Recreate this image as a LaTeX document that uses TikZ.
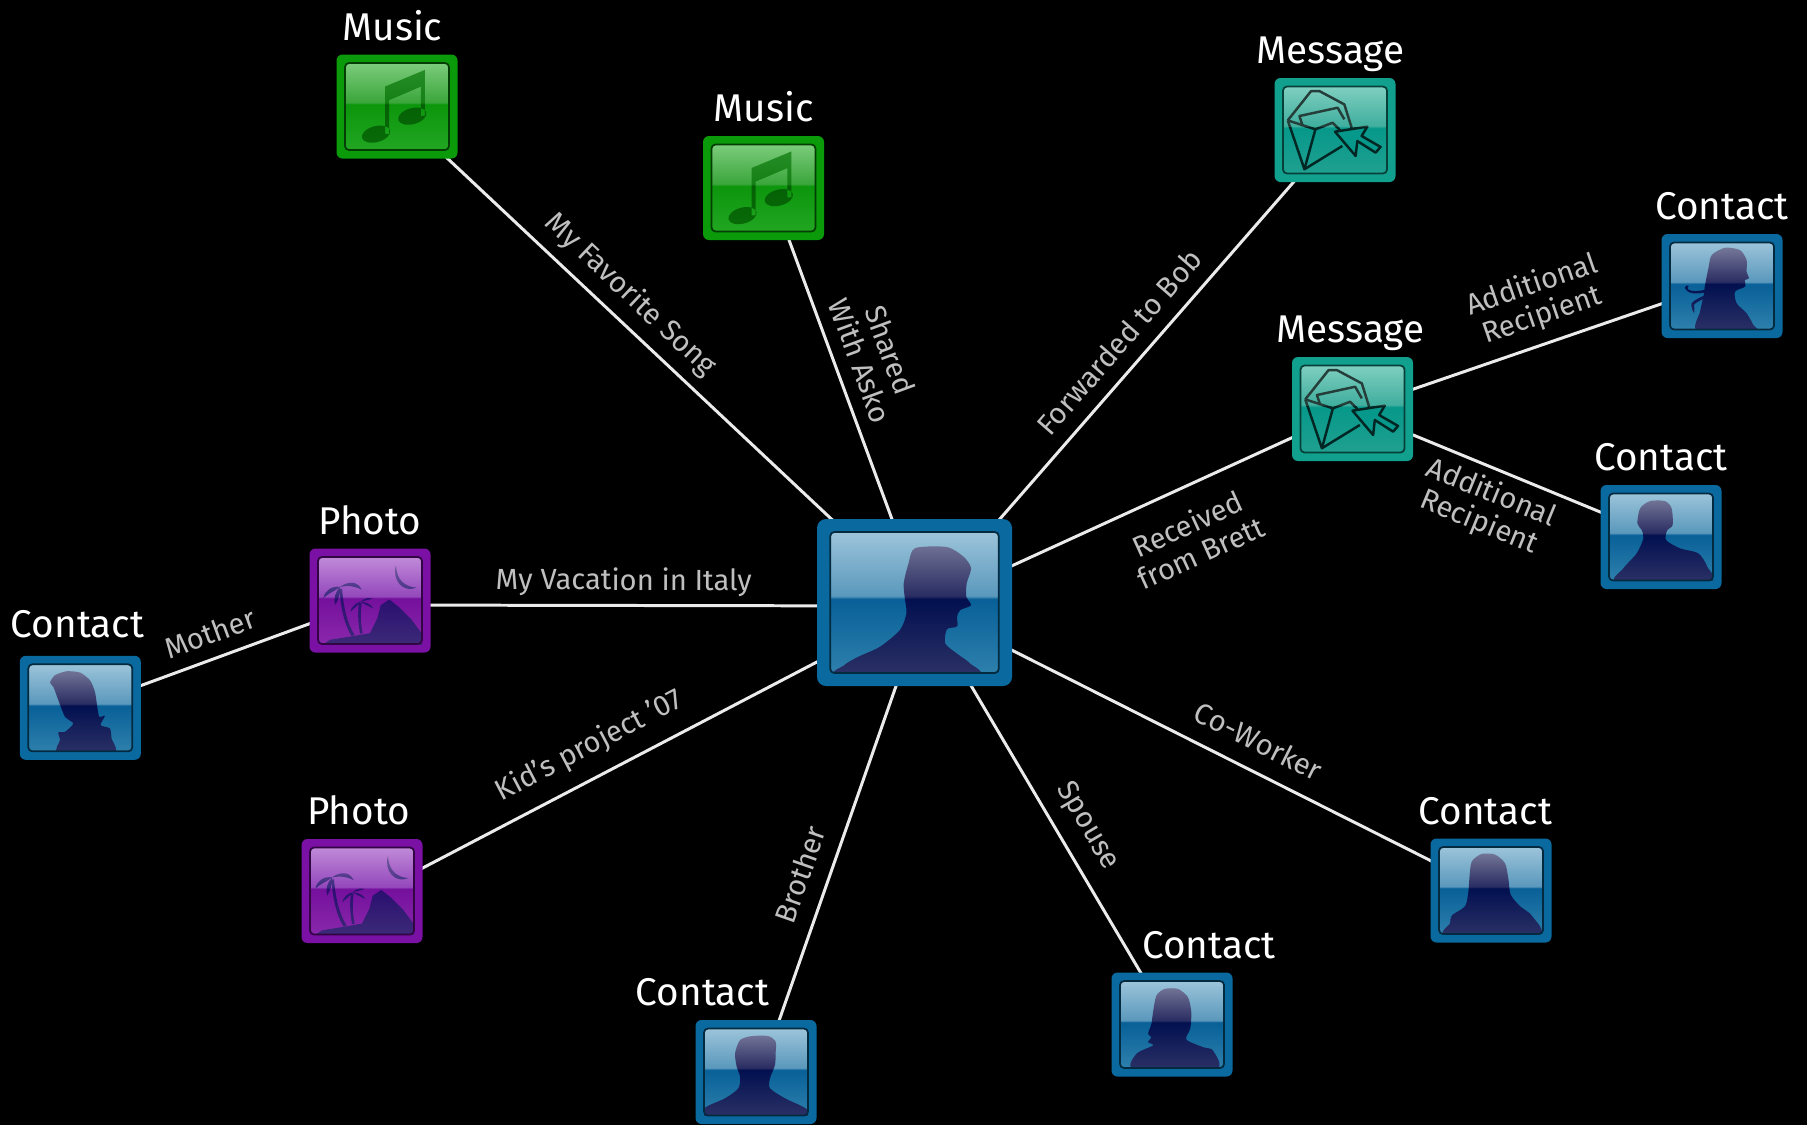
\documentclass[tikz,border=0pt]{standalone}
\usepackage{fontspec}
\setmainfont{Fira Sans}
\usetikzlibrary{positioning}
\pgfdeclarelayer{links}
\pgfsetlayers{links,main}

% name, four stops of the shading from top to bottom
\newcommand{\newgloss}[5]{%
  \definecolor{#1a}{HTML}{#2}\definecolor{#1b}{HTML}{#3}%
  \definecolor{#1c}{HTML}{#4}\definecolor{#1d}{HTML}{#5}%
  \pgfdeclareverticalshading{#1}{100bp}{color(0bp)=(#1d); color(25bp)=(#1d); color(51.3bp)=(#1c); color(52.3bp)=(#1b); color(75bp)=(#1a); color(100bp)=(#1a)}}
\newgloss{bluepanel}{9CC4DA}{5A98BC}{086098}{2E80AC}
\newgloss{bluefig}{8082A0}{2A2D62}{021050}{2A3065}
\newgloss{greenpanel}{7CCC7C}{3AA63A}{0C960C}{22A622}
\newgloss{greenfig}{2A8F2A}{148014}{056005}{086C08}
\newgloss{tealpanel}{7FCFC0}{40AE9E}{06988A}{20A090}
\newgloss{purplepanel}{C08AD8}{9448BC}{74109C}{8A28AC}
\newgloss{purplefig}{8468A8}{3C2A80}{2A0E70}{3C2A78}
\definecolor{blueedge}{HTML}{0A6AA0}
\definecolor{greenedge}{HTML}{0A9A0A}
\definecolor{tealedge}{HTML}{12A08E}
\definecolor{purpleedge}{HTML}{7A10A4}

\newcommand{\panelrect}{(-.52*\tileunit,-.435*\tileunit) rectangle (.52*\tileunit,.435*\tileunit)}
\newcommand{\figclip}[2]{\begin{scope}\pgfmathsetmacro{\figunit}{.00333*\tileunit}\clip[x=\figunit cm,y=-\figunit cm] #2;\shade[shading=#1] \panelrect;\end{scope}}

\newcommand{\figprofile}{\figclip{bluefig}{plot[smooth cycle,tension=.45] coordinates {(1,-101)(60,-103)(91,-85)(105,-64)(97,-36)(96,-11)(105,5)(85,14)(79,26)(80,42)(75,46)(60,50)(57,76)(79,95)(103,113)(111,135)(-139,135)(-130,116)(-105,101)(-64,82)(-27,51)(-15,20)(-18,-8)(-20,-36)(-11,-73)}}}
\newcommand{\figmother}{\figclip{bluefig}{plot[smooth cycle,tension=.4] coordinates {(-91,-76)(-76,-98)(-41,-110)(-1,-106)(29,-83)(44,-48)(51,-3)(57,27)(74,24)(61,52)(89,62)(94,92)(101,135)(-66,135)(-61,97)(-66,74)(-46,72)(-21,47)(-46,27)(-66,-23)(-81,-63)}}}
\newcommand{\figbrother}{\figclip{bluefig}{plot[smooth cycle,tension=.45] coordinates {(-63,-56)(-48,-96)(-13,-108)(37,-108)(59,-91)(59,-56)(57,-21)(42,19)(42,49)(87,79)(149,109)(159,135)(-153,135)(-151,106)(-93,79)(-53,49)(-48,14)(-58,-16)}}}
\newcommand{\figspouse}{\figclip{bluefig}{plot[smooth cycle,tension=.45] coordinates {(-57,-37)(-47,-87)(-22,-107)(18,-107)(48,-82)(58,-37)(55,12)(43,45)(93,68)(123,78)(131,135)(-112,135)(-107,88)(-57,63)(-72,53)(-62,38)(-72,28)(-62,-2)}}}
\newcommand{\figworker}{\figclip{bluefig}{plot[smooth cycle,tension=.45] coordinates {(-65,-37)(-58,-87)(-28,-110)(12,-108)(42,-82)(52,-37)(59,12)(87,47)(122,75)(142,135)(-133,135)(-123,98)(-118,75)(-78,47)(-68,3)}}}
\newcommand{\figfriend}{\figclip{bluefig}{plot[smooth cycle,tension=.45] coordinates {(-71,-41)(-63,-86)(-33,-108)(12,-108)(32,-86)(35,-36)(19,-21)(15,9)(57,34)(112,49)(139,89)(145,135)(-130,135)(-113,94)(-73,49)(-53,4)(-58,-21)}}}
\newcommand{\figponytail}{\figclip{bluefig}{plot[smooth cycle,tension=.45] coordinates {(-41,-53)(-31,-93)(9,-115)(54,-108)(74,-78)(74,-43)(81,-23)(69,-18)(69,2)(39,17)(44,52)(74,82)(94,117)(99,135)(-73,135)(-66,77)(-56,32)(-51,-3)} (-46,18) .. controls (-75,26) and (-105,24) .. (-112,6) .. controls (-112,-2) and (-104,-4) .. (-100,0) .. controls (-104,4) and (-106,6) .. (-102,10) .. controls (-90,18) and (-70,16) .. (-46,10) -- cycle (-56,30) .. controls (-75,38) and (-98,50) .. (-92,60) .. controls (-90,70) and (-88,76) .. (-84,82) .. controls (-82,70) and (-84,62) .. (-84,56) .. controls (-80,50) and (-65,44) .. (-56,38) -- cycle}}
\newcommand{\fignote}{\figclip{greenfig}{(-36,-60) -- (84,-110) -- (84,28) -- (72,28) -- (72,-60) -- (-24,-19) -- (-24,82) -- (-36,82) -- cycle (46,29) ellipse [x radius=.145cm,y radius=.08cm,rotate=15] (-63,83) ellipse [x radius=.145cm,y radius=.08cm,rotate=15]}}
\newcommand{\figisland}{\figclip{purplefig}{(78,-106) .. controls (65,-61) and (100,-21) .. (140,-39) .. controls (105,-41) and (80,-61) .. (78,-106) -- cycle
  (-145,135) -- (-120,118) -- (-50,107) -- (0,98) -- (22,54) -- (32,14) -- (58,-3) -- (85,18) -- (125,58) -- (155,98) -- (160,135) -- cycle
  (-92,-35) .. controls (-88,20) and (-78,70) .. (-56,106) -- (-46,104) .. controls (-68,70) and (-80,20) .. (-84,-35) -- cycle
  (-90,-41) .. controls (-60,-62) and (-35,-55) .. (-25,-32) .. controls (-45,-45) and (-70,-45) .. (-90,-41) -- cycle
  (-90,-41) .. controls (-115,-45) and (-135,-30) .. (-140,-8) .. controls (-125,-22) and (-105,-28) .. (-90,-41) -- cycle
  (-90,-41) .. controls (-105,-25) and (-110,-5) .. (-105,14) .. controls (-95,0) and (-90,-20) .. (-90,-41) -- cycle
  (-33,8) .. controls (-38,40) and (-35,70) .. (-30,100) -- (-22,98) .. controls (-28,70) and (-30,40) .. (-25,8) -- cycle
  (-28,4) .. controls (-15,-10) and (0,-8) .. (8,-6) .. controls (-5,-2) and (-15,0) .. (-28,4) -- cycle
  (-28,4) .. controls (-12,4) and (5,12) .. (10,24) .. controls (-5,16) and (-15,12) .. (-28,4) -- cycle
  (-28,4) .. controls (-42,6) and (-55,18) .. (-60,34) .. controls (-48,24) and (-38,16) .. (-28,4) -- cycle}}
\newcommand{\envlines}[1]{\begin{scope}[x=.00333cm,y=-.00333cm,draw=#1,line width=.7pt,line join=round]
  \draw (-142,-29) -- (-72,-117) -- (-47,-117) -- (28,-77) -- (50,-7);
  \draw (-97,-12) -- (-107,-42) -- (8,-67) -- (28,-32);
  \draw (-142,-29) -- (-92,118) -- (22,48);
  \draw (-142,-29) -- (-59,-2) -- (-92,118);
  \draw (-59,-2) -- (-7,-22) -- (22,8);
  \draw[fill=tealpanelc] (0,5) -- (97,-10) -- (80,18) -- (137,51) -- (122,68) -- (67,33) -- (62,78) -- cycle;
  \end{scope}}
\newcommand{\figenvelope}{%
  \begin{scope}\clip (-.6,-.6) rectangle (.6,-.03);\envlines{black!70!tealpanela}\end{scope}
  \begin{scope}\clip (-.6,-.03) rectangle (.6,.6);\envlines{black!75!tealpanelc}\end{scope}}

\tikzset{
  tile/.style n args={3}{rectangle,rounded corners=.06cm,fill=#1edge,inner sep=0pt,
    minimum width=1.21cm,minimum height=1.04cm,
    path picture={\begin{scope}[shift={(path picture bounding box.center)},sharp corners]
      \def\tileunit{#3}
      \shade[shading=#1panel,rounded corners=.04cm] \panelrect;
      #2
      \draw[black!60!#1edge,line width=.5pt,rounded corners=.04cm] \panelrect;
    \end{scope}}},
  contact/.style={tile={blue}{#1}{1}},
  hubtile/.style={tile={blue}{\figprofile}{1.62},minimum width=1.95cm,minimum height=1.67cm,rounded corners=.09cm},
  tiletitle/.style={white,font=\fontsize{11}{13}\selectfont,inner sep=0pt,text depth=0pt,above=3.7pt of #1},
  link/.style={draw=white!92!black,line width=.85pt},
  linklabel/.style={text=white!75!black,font=\fontsize{8.3}{9}\selectfont,align=center,sloped,inner sep=0pt},
}

\begin{document}
\begin{tikzpicture}[y=-1cm]
  \useasboundingbox (0,0) rectangle (18.07,11.25);

  \node[hubtile] (hub) at (9.145,6.025) {};
  \node[tile={green}{\fignote}{1}] (music1) at (3.97,1.065) {};
  \node[tile={green}{\fignote}{1}] (music2) at (7.635,1.88) {};
  \node[tile={teal}{\figenvelope}{1}] (message1) at (13.35,1.30) {};
  \node[tile={teal}{\figenvelope}{1}] (message2) at (13.525,4.09) {};
  \node[tile={purple}{\figisland}{1}] (photo1) at (3.70,6.005) {};
  \node[tile={purple}{\figisland}{1}] (photo2) at (3.62,8.91) {};
  \node[contact=\figponytail] (contact1) at (17.22,2.86) {};
  \node[contact=\figfriend] (contact2) at (16.61,5.37) {};
  \node[contact=\figworker] (contact3) at (14.91,8.905) {};
  \node[contact=\figspouse] (contact4) at (11.72,10.245) {};
  \node[contact=\figbrother] (contact5) at (7.56,10.72) {};
  \node[contact=\figmother] (contact6) at (0.803,7.078) {};

  \node[tiletitle=music1,xshift=-1.3pt] (music1title) {Music};
  \node[tiletitle=music2] (music2title) {Music};
  \node[tiletitle=message1,xshift=-1.3pt] (message1title) {Message};
  \node[tiletitle=message2,xshift=-.6pt] (message2title) {Message};
  \node[tiletitle=photo1] (photo1title) {Photo};
  \node[tiletitle=photo2,xshift=-1pt] (photo2title) {Photo};
  \node[tiletitle=contact1] (contact1title) {Contact};
  \node[tiletitle=contact2] (contact2title) {Contact};
  \node[tiletitle=contact3,xshift=-1.6pt] (contact3title) {Contact};
  \node[tiletitle=contact4,xshift=10.5pt] (contact4title) {Contact};
  \node[tiletitle=contact5,xshift=-15.2pt] (contact5title) {Contact};
  \node[tiletitle=contact6,xshift=-.8pt,yshift=1.2pt] (contact6title) {Contact};

  \begin{pgfonlayer}{links}
  \fill[black] (0,0) rectangle (18.07,11.25);
  \coordinate (hubpin) at ([shift={(.095,.035)}]hub.center);
  \draw[link] (hubpin) -- node[linklabel,pos=.591,above=2.8pt] (song) {My Favorite Song} ([shift={(0,.045)}]music1.center);
  \draw[link] (hubpin) -- node[linklabel,pos=.572,above=3.6pt] (asko) {Shared\\With Asko} ([shift={(.08,.045)}]music2.center);
  \draw[link] (hubpin) -- node[linklabel,pos=.523,above=4pt] (bob) {Forwarded to Bob} ([shift={(0,.045)}]message1.center);
  \draw[link] (hubpin) -- node[linklabel,pos=.581,below=6.2pt] (brett) {Received\\from Brett} ([shift={(0,.01)}]message2.center);
  \draw[link] (hubpin) -- node[linklabel,pos=.55,above=2.2pt] (italy) {My Vacation in Italy} ([shift={(.08,.045)}]photo1.center);
  \draw[link] (hubpin) -- node[linklabel,pos=.578,above=4.2pt] (kids) {Kid's project '07} ([shift={(.08,.045)}]photo2.center);
  \draw[link] (hubpin) -- node[linklabel,pos=.559,above=4.8pt] (worker) {Co-Worker} ([shift={(.08,.045)}]contact3.center);
  \draw[link] (hubpin) -- node[linklabel,pos=.555,above=3.9pt] (spouse) {Spouse} ([shift={(.02,.045)}]contact4.center);
  \draw[link] (hubpin) -- node[linklabel,pos=.591,above=4.5pt] (brother) {Brother} ([shift={(.035,.045)}]contact5.center);
  \draw[link] ([shift={(0,.01)}]message2.center) -- node[linklabel,pos=.538,above=3.3pt] (extra1) {Additional\\Recipient} ([shift={(0,-.03)}]contact1.center);
  \draw[link] ([shift={(0,.01)}]message2.center) -- node[linklabel,pos=.479,below=2.4pt] (extra2) {Additional\\Recipient} (contact2.center);
  \draw[link] ([shift={(0,.01)}]photo1.center) -- node[linklabel,pos=.522,above=3.7pt] (mother) {Mother} (contact6.center);
  \end{pgfonlayer}
\end{tikzpicture}
\end{document}
